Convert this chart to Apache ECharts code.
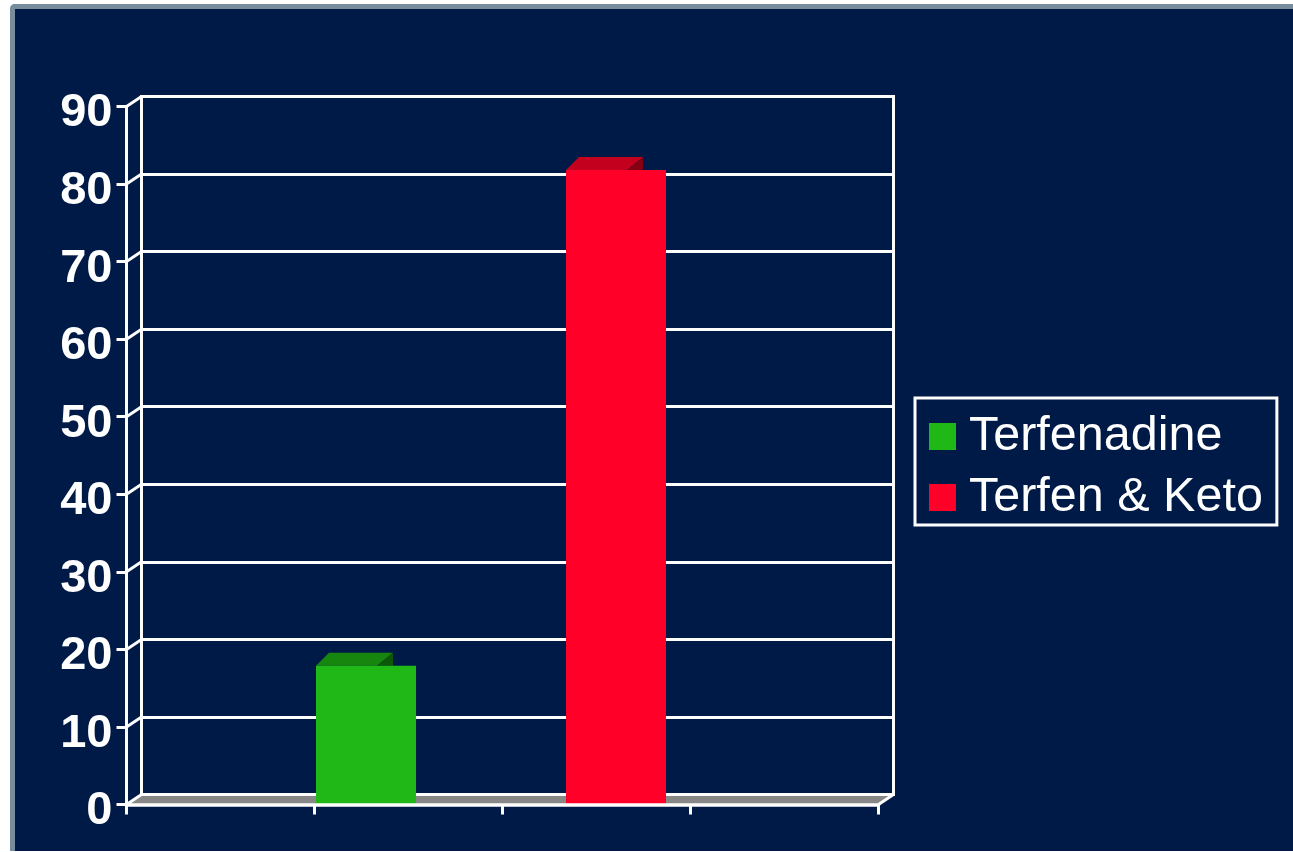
<!DOCTYPE html>
<html>
<head>
<meta charset="utf-8">
<title>Terfenadine</title>
<script src="https://cdn.jsdelivr.net/npm/echarts@6/dist/echarts.min.js"></script>
<style>
  html, body { margin: 0; padding: 0; background: #ffffff; }
  #frame {
    position: absolute; left: 10px; top: 4px; width: 1283px; height: 847px;
    box-sizing: border-box; background: #001A47;
    border-top: 5px solid #788C9C; border-left: 5px solid #788C9C;
    border-top-left-radius: 5px;
  }
  #chart { position: absolute; left: 0; top: 0; width: 1293px; height: 852px; }
</style>
</head>
<body>
<div id="frame"></div>
<div id="chart"></div>
<script>
// Chart data
const categories = ['Terfenadine', 'Terfen & Keto'];
const responseValues = [17.9, 81.8];
const yTicks = [0, 10, 20, 30, 40, 50, 60, 70, 80, 90];
const axisSlots = ['', '', '', ''];

// 3D look: depth offset of the back wall and of the column tops
const WALL_DX = 15, WALL_DY = -10;
const TOP_DX = 13, TOP_DY = -13;
const FONT = '"Liberation Sans", Arial, Helvetica, sans-serif';

const barColors = [
  { front: '#1FB816', top: '#17860F', side: '#0D5808' },
  { front: '#FF0028', top: '#C4001F', side: '#860013' }
];

const yMin = yTicks[0];
const yMax = yTicks[yTicks.length - 1];
const yStep = yTicks[1] - yTicks[0];

const chart = echarts.init(document.getElementById('chart'), null, { renderer: 'canvas' });

function columnRenderer(colors) {
  return function (params, api) {
    const base = api.coord([api.value(0), 0]);
    const top = api.coord([api.value(0), api.value(1)]);
    const w = api.size([1, 0])[0] * 0.4;
    const x0 = base[0] - w / 2;
    const ty = top[1];
    const faceW = w * 0.61;
    return {
      type: 'group',
      children: [
        { type: 'polygon', shape: { points: [[x0, ty], [x0 + TOP_DX, ty + TOP_DY], [x0 + faceW + TOP_DX + 3, ty + TOP_DY], [x0 + faceW, ty]] },
          style: { fill: colors.top } },
        { type: 'polygon', shape: { points: [[x0 + faceW, ty], [x0 + faceW + TOP_DX + 3, ty + TOP_DY], [x0 + faceW + TOP_DX + 3, ty]] },
          style: { fill: colors.side } },
        { type: 'rect', shape: { x: x0, y: ty, width: w, height: base[1] - ty },
          style: { fill: colors.front } }
      ]
    };
  };
}

const option = {
  backgroundColor: 'transparent',
  animation: false,
  textStyle: { fontFamily: FONT },
  grid: [
    // front plane: value axis and category ticks
    { left: 126.5, top: 106.5, width: 752, height: 698 },
    // back wall
    { left: 141.5, top: 96.5, width: 752, height: 698, show: true, borderColor: '#ffffff', borderWidth: 3, backgroundColor: 'transparent', z: 2 },
    // columns
    { left: 241, top: 106.5, width: 500, height: 698 }
  ],
  xAxis: [
    { gridIndex: 0, type: 'category', data: axisSlots, boundaryGap: true, z: 6,
      axisLine: { show: true, lineStyle: { color: '#ffffff', width: 3.5 } },
      axisTick: { show: true, length: 10, interval: 0, lineStyle: { color: '#ffffff', width: 3 } },
      axisLabel: { show: false }, splitLine: { show: false } },
    { gridIndex: 1, type: 'category', data: axisSlots, show: false },
    { gridIndex: 2, type: 'category', data: categories, show: false }
  ],
  yAxis: [
    { gridIndex: 0, type: 'value', min: yMin, max: yMax, interval: yStep, z: 6,
      axisLine: { show: true, lineStyle: { color: '#ffffff', width: 3 } },
      axisTick: { show: true, length: 10, lineStyle: { color: '#ffffff', width: 3 } },
      splitLine: { show: false },
      axisLabel: { show: true, margin: 14, formatter: '{v|{value}}',
                   rich: { v: { color: '#ffffff', fontSize: 47, fontWeight: 'bold', fontFamily: FONT,
                                lineHeight: 47, padding: [14, 0, 0, 0] } } } },
    { gridIndex: 1, type: 'value', min: yMin, max: yMax, interval: yStep, z: 2,
      axisLine: { show: true, lineStyle: { color: '#ffffff', width: 3 } },
      axisTick: { show: false }, axisLabel: { show: false },
      splitLine: { show: true, lineStyle: { color: '#ffffff', width: 3 } } },
    { gridIndex: 2, type: 'value', min: yMin, max: yMax, interval: yStep, show: false, splitLine: { show: false } }
  ],
  legend: {
    orient: 'vertical', left: 915, top: 398,
    padding: [14, 14, 3, 14],
    borderColor: '#ffffff', borderWidth: 3,
    itemWidth: 27, itemHeight: 27, itemGap: 12,
    icon: 'rect',
    data: categories,
    textStyle: { color: '#ffffff', fontSize: 48.5, lineHeight: 38, fontFamily: FONT, padding: [8, 0, 0, 8] }
  },
  series: [
    {
      // floor and the side-wall connectors at each tick
      type: 'custom', name: 'frame', xAxisIndex: 0, yAxisIndex: 0, z: 1, silent: true,
      data: yTicks.map(v => [0, v]),
      renderItem: function (params, api) {
        const cs = params.coordSys;
        const v = api.value(1);
        const y = api.coord([0, v])[1];
        const children = [];
        if (v === yMin) {
          children.push({ type: 'polygon', z2: 0,
            shape: { points: [[cs.x, y], [cs.x + WALL_DX, y + WALL_DY], [cs.x + cs.width + WALL_DX, y + WALL_DY], [cs.x + cs.width, y]] },
            style: { fill: '#878787' } });
          children.push({ type: 'line', z2: 2,
            shape: { x1: cs.x + cs.width, y1: y, x2: cs.x + cs.width + WALL_DX, y2: y + WALL_DY },
            style: { stroke: '#ffffff', lineWidth: 3 } });
        }
        children.push({ type: 'line', z2: 2,
          shape: { x1: cs.x, y1: y, x2: cs.x + WALL_DX, y2: y + WALL_DY },
          style: { stroke: '#ffffff', lineWidth: 3 } });
        return { type: 'group', children: children };
      }
    },
    {
      type: 'custom', name: categories[0], xAxisIndex: 2, yAxisIndex: 2, z: 4,
      itemStyle: { color: barColors[0].front },
      data: [[categories[0], responseValues[0]]],
      renderItem: columnRenderer(barColors[0])
    },
    {
      type: 'custom', name: categories[1], xAxisIndex: 2, yAxisIndex: 2, z: 4,
      itemStyle: { color: barColors[1].front },
      data: [[categories[1], responseValues[1]]],
      renderItem: columnRenderer(barColors[1])
    }
  ]
};

chart.setOption(option);
</script>
</body>
</html>
